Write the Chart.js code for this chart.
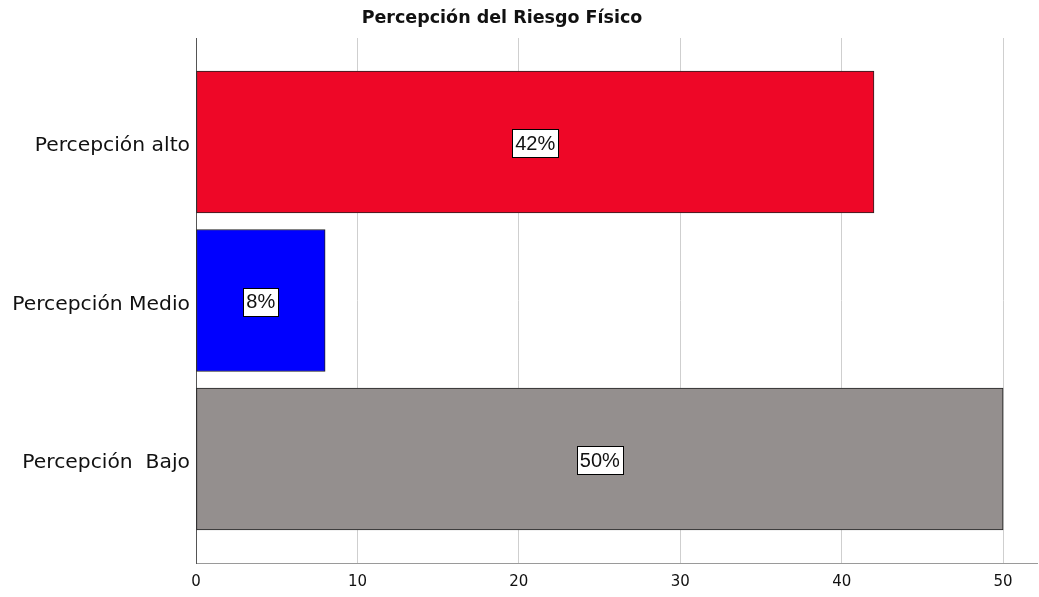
<!DOCTYPE html>
<html>
<head>
<meta charset="utf-8">
<script src="https://cdn.jsdelivr.net/npm/chart.js@4"></script>
<style>
  html, body { margin: 0; padding: 0; background: #fff; }
  #wrap { width: 1039px; height: 597px; }
</style>
</head>
<body>
<div id="wrap"><canvas id="myChart" width="1039" height="597"></canvas></div>
<script>
// datos
const categorias = ['Percepción alto', 'Percepción Medio', 'Percepción  Bajo'];
const posiciones = [1, 2, 3];
const porcentajes = [42, 8, 50];
const colores = ['#EE0727', '#0000FF', '#948F8E'];
const ticksX = [0, 10, 20, 30, 40, 50];
const titulo = 'Percepción del Riesgo Físico';

const FONT = 'DejaVu Sans';

// título centrado como en el original
const tituloPlugin = {
    id: 'titulo',
    afterDraw(chart) {
        const ctx = chart.ctx;
        ctx.save();
        ctx.font = 'bold 17.5px "' + FONT + '"';
        ctx.fillStyle = '#111';
        ctx.textAlign = 'center';
        ctx.textBaseline = 'middle';
        ctx.fillText(titulo, 502, 18);
        ctx.restore();
    }
};

// etiquetas con caja blanca en el centro de cada barra
const etiquetas = {
    id: 'etiquetas',
    afterDatasetsDraw(chart) {
        const ctx = chart.ctx;
        const meta = chart.getDatasetMeta(0);
        ctx.save();
        ctx.font = '20px "Liberation Sans"';
        ctx.textAlign = 'center';
        ctx.textBaseline = 'middle';
        meta.data.forEach((bar, i) => {
            const txt = porcentajes[i] + '%';
            const cx = (bar.base + bar.x) / 2;
            const cy = bar.y + 1;
            const w = Math.round(ctx.measureText(txt).width + 6);
            const h = 28;
            const x0 = Math.round(cx - w / 2) + 0.5;
            const y0 = Math.round(cy - h / 2) + 0.5;
            ctx.fillStyle = '#fff';
            ctx.fillRect(x0, y0, w, h);
            ctx.strokeStyle = '#000';
            ctx.lineWidth = 1;
            ctx.strokeRect(x0, y0, w, h);
            ctx.fillStyle = '#111';
            ctx.fillText(txt, cx, cy + 1);
        });
        ctx.restore();
    }
};

const ctx = document.getElementById('myChart').getContext('2d');
new Chart(ctx, {
    type: 'bar',
    data: {
        datasets: [{
            data: posiciones.map((p, i) => ({ x: porcentajes[i], y: p })),
            backgroundColor: colores,
            borderColor: '#222',
            borderWidth: 1,
            borderSkipped: false,
            barThickness: 142
        }]
    },
    options: {
        indexAxis: 'y',
        responsive: false,
        animation: false,
        layout: { padding: { top: 38, right: 2, left: 0, bottom: 0 } },
        plugins: { legend: { display: false }, tooltip: { enabled: false } },
        scales: {
            x: {
                type: 'linear',
                min: 0,
                max: 52.1,
                afterBuildTicks: (axis) => { axis.ticks = ticksX.map(v => ({ value: v })); },
                afterFit: (scale) => { scale.height = 34; },
                grid: { color: '#CFCFCF', lineWidth: 1, drawTicks: false },
                border: { color: '#9A9A9A', width: 1 },
                ticks: { color: '#111', font: { family: FONT, size: 15 }, padding: 10 }
            },
            y: {
                type: 'linear',
                reverse: true,
                offset: false,
                min: 0.344,
                max: 3.656,
                afterBuildTicks: (axis) => { axis.ticks = posiciones.map(v => ({ value: v })); },
                afterFit: (scale) => { scale.width = 196; },
                grid: { display: false, drawTicks: false, offset: false },
                border: { color: '#555', width: 1 },
                ticks: {
                    color: '#111',
                    font: { family: FONT, size: 20.3 },
                    padding: 6,
                    labelOffset: 4,
                    callback: (v) => categorias[posiciones.indexOf(v)] || ''
                }
            }
        }
    },
    plugins: [tituloPlugin, etiquetas]
});
</script>
</body>
</html>
